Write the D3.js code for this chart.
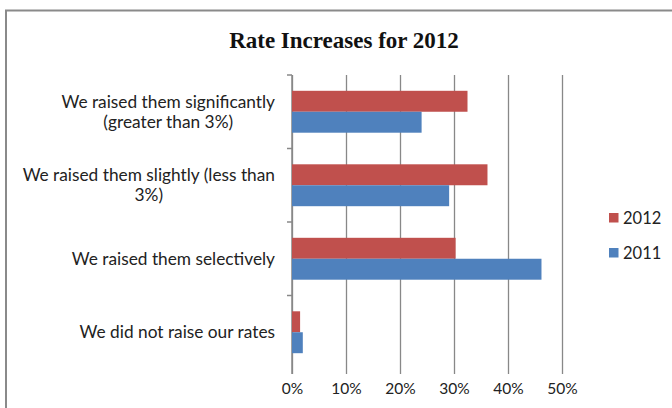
<!DOCTYPE html>
<html>
<head>
<meta charset="utf-8">
<script src="https://cdn.jsdelivr.net/npm/d3@7"></script>
<style>
  html, body { margin: 0; padding: 0; background: #fff; }
  svg { display: block; }
</style>
</head>
<body>
<svg id="chart" width="672" height="408"></svg>
<script>
// Survey categories, top to bottom, each split into display lines
const categories = [
  ["We raised them significantly", "(greater than 3%)"],
  ["We raised them slightly (less than", "3%)"],
  ["We raised them selectively"],
  ["We did not raise our rates"]
];
const seriesNames = ["2012", "2011"];
const values2012 = [0.325, 0.362, 0.303, 0.015];
const values2011 = [0.240, 0.291, 0.462, 0.020];
const xTicks = [0, 0.1, 0.2, 0.3, 0.4, 0.5];
const colors = { "2012": "#C0504D", "2011": "#4F81BD" };

const svg = d3.select("#chart");
const labelFont = "Lato, 'Open Sans', sans-serif";

// Outer chart frame
svg.append("rect")
  .attr("x", 6).attr("y", 10.5)
  .attr("width", 700).attr("height", 420)
  .attr("fill", "#fff")
  .attr("stroke", "#8a8a8a")
  .attr("stroke-width", 2);

// Title
svg.append("text")
  .attr("x", 344).attr("y", 48)
  .attr("text-anchor", "middle")
  .attr("font-family", "'Liberation Serif', 'DejaVu Serif', serif")
  .attr("font-weight", "bold")
  .attr("font-size", 23)
  .attr("fill", "#111")
  .text("Rate Increases for 2012");

const plot = { left: 292, right: 562, top: 75, bottom: 369 };

const x = d3.scaleLinear().domain([0, 0.5]).range([plot.left, plot.right]);
const y = d3.scaleBand()
  .domain(d3.range(categories.length))
  .range([plot.top, plot.bottom])
  .paddingInner(0.43)
  .paddingOuter(0.215);
const ySub = d3.scaleBand().domain(seriesNames).range([0, y.bandwidth()]);

// Vertical gridlines and percent labels
const xAxis = svg.append("g")
  .attr("transform", `translate(0,${plot.bottom})`)
  .call(d3.axisBottom(x).tickValues(xTicks).tickFormat(d3.format(".0%"))
    .tickSize(0).tickPadding(14));
xAxis.select(".domain").remove();
xAxis.selectAll(".tick line")
  .attr("y1", 5).attr("y2", -(plot.bottom - plot.top))
  .attr("stroke", "#888").attr("stroke-width", 1.3);
xAxis.selectAll(".tick text")
  .attr("font-family", labelFont).attr("font-size", 15.5).attr("fill", "#222");

// Category axis with ticks between groups
const yAxisG = svg.append("g");
yAxisG.append("line")
  .attr("x1", plot.left).attr("x2", plot.left)
  .attr("y1", plot.top).attr("y2", plot.bottom + 5)
  .attr("stroke", "#888").attr("stroke-width", 1.5);
yAxisG.selectAll("line.tk")
  .data(d3.range(categories.length))
  .join("line")
  .attr("class", "tk")
  .attr("x1", plot.left - 5).attr("x2", plot.left)
  .attr("y1", i => y(i) - y.step() * y.paddingInner() / 2)
  .attr("y2", i => y(i) - y.step() * y.paddingInner() / 2)
  .attr("stroke", "#888").attr("stroke-width", 1.5);

// Bars
const rows = categories.map((c, i) => ({ i, "2012": values2012[i], "2011": values2011[i] }));
const groups = svg.append("g").selectAll("g")
  .data(rows).join("g")
  .attr("transform", d => `translate(0,${y(d.i)})`);
groups.selectAll("rect")
  .data(d => seriesNames.map(s => ({ s, v: d[s] })))
  .join("rect")
  .attr("x", x(0))
  .attr("y", d => ySub(d.s))
  .attr("width", d => x(d.v) - x(0))
  .attr("height", ySub.bandwidth())
  .attr("fill", d => colors[d.s]);

// Category labels, centred lines right-aligned as a block
const labels = svg.append("g");
categories.forEach((lines, i) => {
  const cy = y(i) + y.bandwidth() / 2;
  const t = labels.append("text")
    .attr("font-family", labelFont).attr("font-size", 17.3).attr("fill", "#222")
    .attr("text-anchor", "middle");
  lines.forEach((ln, k) => {
    t.append("tspan").attr("data-k", k).text(ln);
  });
  // measure widest line then position block against the axis
  const spans = t.selectAll("tspan").nodes();
  const maxW = d3.max(spans, n => n.getComputedTextLength());
  const cx = 275 - maxW / 2;
  const lh = 20;
  spans.forEach((n, k) => {
    d3.select(n)
      .attr("x", cx)
      .attr("y", cy + (k - (lines.length - 1) / 2) * lh)
      .attr("dy", "0.35em");
  });
});

// Legend
const legend = svg.append("g").attr("transform", "translate(609,213)");
seriesNames.forEach((s, k) => {
  const g = legend.append("g").attr("transform", `translate(0,${k * 35})`);
  g.append("rect").attr("width", 9.5).attr("height", 9.5).attr("fill", colors[s]);
  g.append("text")
    .attr("x", 14).attr("y", 5).attr("dy", "0.35em")
    .attr("font-family", labelFont).attr("font-size", 16.5).attr("fill", "#222")
    .text(s);
});
</script>
</body>
</html>
